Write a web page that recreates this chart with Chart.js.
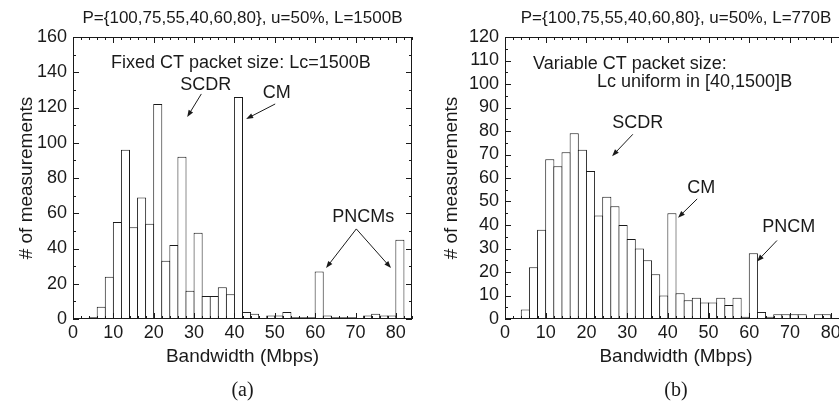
<!DOCTYPE html>
<html>
<head>
<meta charset="utf-8">
<script src="https://cdn.jsdelivr.net/npm/chart.js@4.4.1/dist/chart.umd.min.js"></script>
<style>
  html, body { margin: 0; padding: 0; background: #fff; overflow: hidden; }
  body { width: 839px; height: 408px; position: relative; }
  canvas { position: absolute; top: 0; }
  #histFixed { left: 0; }
  #histVariable { left: 420px; }
</style>
</head>
<body>
<canvas id="histFixed" width="420" height="408"></canvas>
<canvas id="histVariable" width="432" height="408"></canvas>
<script>
// histogram bins, 2 Mbps wide
const binWidth = 2;
const binStarts = [0, 2, 4, 6, 8, 10, 12, 14, 16, 18, 20, 22, 24, 26, 28, 30, 32, 34, 36, 38, 40,
                   42, 44, 46, 48, 50, 52, 54, 56, 58, 60, 62, 64, 66, 68, 70, 72, 74, 76, 78, 80, 82];

// measurements per bin, fixed CT packet size (Lc = 1500B)
const countsFixed = [0, 0, 1, 7, 24, 55, 96, 52, 69, 54, 122, 33, 42, 92, 16, 49, 13, 13, 18, 14, 126,
                     4, 3, 0, 2, 2, 4, 1, 1, 1, 27, 2, 1, 1, 1, 0, 2, 3, 2, 2, 45, 0];

// measurements per bin, variable CT packet size (Lc uniform in [40,1500]B)
const countsVariable = [0, 0, 4, 22, 38, 68, 65, 71, 79, 72, 63, 44, 52, 48, 40, 34, 30, 25, 19, 10, 45,
                        11, 8, 9, 7, 7, 9, 6, 9, 1, 28, 3, 1, 2, 2, 2, 2, 0, 2, 2, 0, 0];

const xTickValues = [0, 10, 20, 30, 40, 50, 60, 70, 80];
const yTicksFixed = [0, 20, 40, 60, 80, 100, 120, 140, 160];
const yTicksVariable = [0, 10, 20, 30, 40, 50, 60, 70, 80, 90, 100, 110, 120];

const FONT = "'Liberation Sans', Arial, Helvetica, sans-serif";
const SERIF = "'Liberation Serif', 'Times New Roman', serif";
const INK = '#1a1a1a';

function drawArrow(ctx, x1, y1, x2, y2) {
  const ang = Math.atan2(y2 - y1, x2 - x1);
  const head = 7, half = 2.6;
  ctx.beginPath();
  ctx.moveTo(x1, y1);
  ctx.lineTo(x2 - Math.cos(ang) * head * 0.8, y2 - Math.sin(ang) * head * 0.8);
  ctx.stroke();
  ctx.beginPath();
  ctx.moveTo(x2, y2);
  ctx.lineTo(x2 - Math.cos(ang) * head - Math.sin(ang) * half, y2 - Math.sin(ang) * head + Math.cos(ang) * half);
  ctx.lineTo(x2 - Math.cos(ang) * head + Math.sin(ang) * half, y2 - Math.sin(ang) * head - Math.cos(ang) * half);
  ctx.closePath();
  ctx.fill();
}

// box frame with inward ticks, notes, arrows, header and caption
const panelDecor = {
  id: 'panelDecor',
  afterDatasetsDraw(chart, args, o) {
    const { ctx, chartArea: a, scales: { x, y } } = chart;
    ctx.save();
    ctx.strokeStyle = INK;
    ctx.fillStyle = INK;
    ctx.lineWidth = 1;
    ctx.strokeRect(a.left + 0.5, a.top + 0.5, a.right - a.left - 1, a.bottom - a.top - 1);

    ctx.beginPath();
    for (let v = 0; v <= x.max; v += o.xMinor) {
      const px = Math.round(x.getPixelForValue(v)) + 0.5;
      const len = v % o.xMajor === 0 ? 6 : 3;
      ctx.moveTo(px, a.bottom); ctx.lineTo(px, a.bottom - len);
      ctx.moveTo(px, a.top); ctx.lineTo(px, a.top + len);
    }
    for (let v = 0; v <= y.max; v += o.yMinor) {
      const py = Math.round(y.getPixelForValue(v)) + 0.5;
      const len = v % o.yMajor === 0 ? 6 : 3;
      ctx.moveTo(a.left, py); ctx.lineTo(a.left + len, py);
      ctx.moveTo(a.right, py); ctx.lineTo(a.right - len, py);
    }
    ctx.stroke();

    ctx.font = '18px ' + FONT;
    ctx.textBaseline = 'middle';
    for (const n of o.notes) {
      ctx.textAlign = n.align || 'center';
      ctx.fillText(n.text, x.getPixelForValue(n.x), y.getPixelForValue(n.y));
    }
    for (const ar of o.arrows) {
      drawArrow(ctx, x.getPixelForValue(ar.from[0]), y.getPixelForValue(ar.from[1]),
                     x.getPixelForValue(ar.to[0]), y.getPixelForValue(ar.to[1]));
    }

    const cx = (a.left + a.right) / 2;
    ctx.textAlign = 'center';
    ctx.font = '17px ' + FONT;
    ctx.fillText(o.header, cx, 18);
    ctx.font = '20px ' + SERIF;
    ctx.fillText(o.caption, cx, 391);
    ctx.restore();
  }
};

function makeHistogram(id, counts, cfg) {
  const ctx = document.getElementById(id).getContext('2d');
  return new Chart(ctx, {
    type: 'bar',
    data: {
      datasets: [{
        data: binStarts.map((b, i) => ({ x: b + binWidth / 2, y: counts[i] })),
        backgroundColor: '#fff',
        borderColor: INK,
        borderWidth: { top: 1, left: 1, right: 1, bottom: 0 },
        borderSkipped: false,
        // bars one pixel wider than a bin so neighbouring outlines share a line
        barPercentage: 1.124,
        categoryPercentage: 1
      }]
    },
    options: {
      responsive: false,
      animation: false,
      layout: { padding: { left: 0, right: cfg.padRight, top: 37, bottom: 0 } },
      plugins: {
        legend: { display: false },
        tooltip: { enabled: false },
        panelDecor: cfg.decor
      },
      scales: {
        x: {
          type: 'linear',
          min: 0,
          max: 84,
          offset: false,
          grid: { display: false, drawTicks: false },
          border: { display: false },
          afterBuildTicks: s => { s.ticks = xTickValues.map(v => ({ value: v })); },
          afterFit: s => { s.height = 89; },
          ticks: { color: INK, font: { family: FONT, size: 18 }, padding: 3, maxRotation: 0, autoSkip: false },
          title: {
            display: true, text: 'Bandwidth (Mbps)', color: INK,
            font: { family: FONT, size: 19 }, padding: { top: 0, bottom: 40 }
          }
        },
        y: {
          min: 0,
          max: cfg.yMax,
          grid: { display: false, drawTicks: false },
          border: { display: false },
          afterBuildTicks: s => { s.ticks = cfg.yTicks.map(v => ({ value: v })); },
          afterFit: s => { s.width = cfg.axisWidth; },
          ticks: { color: INK, font: { family: FONT, size: 18 }, padding: 6, autoSkip: false },
          title: {
            display: true, text: '# of measurements', color: INK,
            font: { family: FONT, size: 19 }, padding: { top: cfg.titlePad, bottom: 0 }
          }
        }
      }
    },
    plugins: [panelDecor]
  });
}

makeHistogram('histFixed', countsFixed, {
  yMax: 160,
  yTicks: yTicksFixed,
  axisWidth: 73,
  padRight: 8,
  titlePad: 15,
  decor: {
    xMajor: 10, xMinor: 2, yMajor: 20, yMinor: 10,
    header: 'P={100,75,55,40,60,80}, u=50%, L=1500B',
    caption: '(a)',
    notes: [
      { text: 'Fixed CT packet size: Lc=1500B', x: 41.6, y: 145 },
      { text: 'SCDR', x: 32.9, y: 132.8 },
      { text: 'CM', x: 50.5, y: 128.2 },
      { text: 'PNCMs', x: 71.9, y: 57.9 }
    ],
    arrows: [
      { from: [31.8, 127.7], to: [28.3, 114.6] },
      { from: [50.1, 122], to: [42.9, 113.5] },
      { from: [70.2, 51.1], to: [62.7, 28.9] },
      { from: [70.2, 51.1], to: [78.8, 28.9] }
    ]
  }
});

makeHistogram('histVariable', countsVariable, {
  yMax: 120,
  yTicks: yTicksVariable,
  axisWidth: 85,
  padRight: 5,
  titlePad: 20,
  decor: {
    xMajor: 10, xMinor: 2, yMajor: 10, yMinor: 5,
    header: 'P={100,75,55,40,60,80}, u=50%, L=770B',
    caption: '(b)',
    notes: [
      { text: 'Variable CT packet size:', x: 6.9, y: 108.6, align: 'left' },
      { text: 'Lc uniform in [40,1500]B', x: 22.6, y: 101, align: 'left' },
      { text: 'SCDR', x: 32.6, y: 83.6 },
      { text: 'CM', x: 48.2, y: 55.8 },
      { text: 'PNCM', x: 69.7, y: 39.3 }
    ],
    arrows: [
      { from: [31.4, 78.6], to: [26.3, 69.3] },
      { from: [47.2, 51.1], to: [42.5, 43.1] },
      { from: [66.8, 33.4], to: [61.9, 24.5] }
    ]
  }
});
</script>
</body>
</html>
